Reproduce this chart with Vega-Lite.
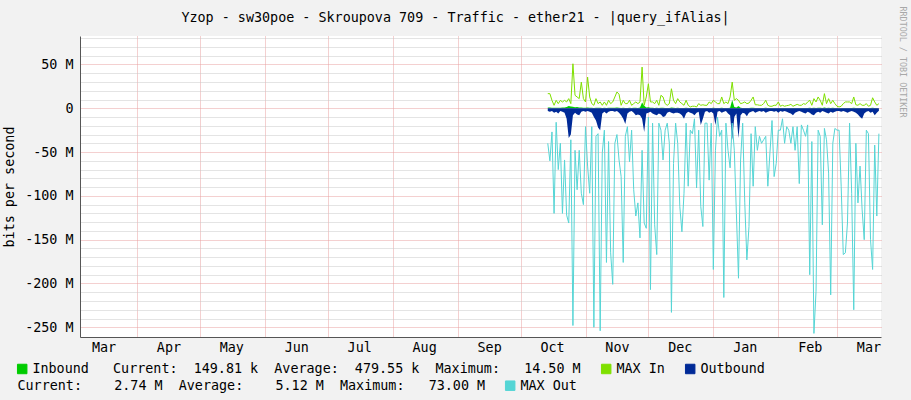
{
  "$schema": "https://vega.github.io/schema/vega-lite/v6.json",
  "width": 801,
  "height": 301,
  "autosize": {"type": "none"},
  "padding": {"left": 80, "top": 36, "right": 30, "bottom": 63},
  "background": "#f2f2f2",
  "title": {
    "text": "Yzop - sw30poe - Skroupova 709 - Traffic - ether21 - |query_ifAlias|",
    "font": "DejaVu Sans Mono",
    "fontSize": 13.4,
    "fontWeight": "normal",
    "color": "#000000",
    "anchor": "middle",
    "dx": -25,
    "offset": -29,
    "baseline": "alphabetic"
  },
  "data": {
    "values": [
      {"time": "2022-10-14", "inbound": 800000, "max_in": 16700000, "outbound": -3000000, "max_out": -40000000},
      {"time": "2022-10-15", "inbound": 1000000, "max_in": 16700000, "outbound": -4000000, "max_out": -60000000},
      {"time": "2022-10-16", "inbound": 600000, "max_in": 9000000, "outbound": -3000000, "max_out": -27000000},
      {"time": "2022-10-17", "inbound": 500000, "max_in": 3400000, "outbound": -5000000, "max_out": -120000000},
      {"time": "2022-10-18", "inbound": 700000, "max_in": 9000000, "outbound": -4000000, "max_out": -16000000},
      {"time": "2022-10-19", "inbound": 600000, "max_in": 5300000, "outbound": -6000000, "max_out": -70000000},
      {"time": "2022-10-20", "inbound": 500000, "max_in": 9000000, "outbound": -3000000, "max_out": -40000000},
      {"time": "2022-10-21", "inbound": 800000, "max_in": 7200000, "outbound": -4000000, "max_out": -120000000},
      {"time": "2022-10-22", "inbound": 1000000, "max_in": 9000000, "outbound": -5000000, "max_out": -59000000},
      {"time": "2022-10-23", "inbound": 1500000, "max_in": 7200000, "outbound": -12000000, "max_out": -122000000},
      {"time": "2022-10-24", "inbound": 2500000, "max_in": 11000000, "outbound": -34000000, "max_out": -131000000},
      {"time": "2022-10-25", "inbound": 2000000, "max_in": 5300000, "outbound": -30000000, "max_out": -36000000},
      {"time": "2022-10-26", "inbound": 1800000, "max_in": 50800000, "outbound": -8000000, "max_out": -248000000},
      {"time": "2022-10-27", "inbound": 1200000, "max_in": 14800000, "outbound": -5000000, "max_out": -48000000},
      {"time": "2022-10-28", "inbound": 1500000, "max_in": 12900000, "outbound": -7000000, "max_out": -93000000},
      {"time": "2022-10-29", "inbound": 1000000, "max_in": 11000000, "outbound": -8000000, "max_out": -48000000},
      {"time": "2022-10-30", "inbound": 800000, "max_in": 29900000, "outbound": -4000000, "max_out": -97000000},
      {"time": "2022-10-31", "inbound": 600000, "max_in": 11000000, "outbound": -3000000, "max_out": -110000000},
      {"time": "2022-11-01", "inbound": 500000, "max_in": 7200000, "outbound": -4000000, "max_out": -21000000},
      {"time": "2022-11-02", "inbound": 900000, "max_in": 35600000, "outbound": -3000000, "max_out": -66000000},
      {"time": "2022-11-03", "inbound": 700000, "max_in": 12900000, "outbound": -4000000, "max_out": -97000000},
      {"time": "2022-11-04", "inbound": 500000, "max_in": 5300000, "outbound": -5000000, "max_out": -21000000},
      {"time": "2022-11-05", "inbound": 400000, "max_in": 3400000, "outbound": -10000000, "max_out": -250000000},
      {"time": "2022-11-06", "inbound": 600000, "max_in": 11000000, "outbound": -14000000, "max_out": -32000000},
      {"time": "2022-11-07", "inbound": 500000, "max_in": 5300000, "outbound": -22000000, "max_out": -29000000},
      {"time": "2022-11-08", "inbound": 600000, "max_in": 7200000, "outbound": -25000000, "max_out": -254000000},
      {"time": "2022-11-09", "inbound": 400000, "max_in": 3400000, "outbound": -6000000, "max_out": -51000000},
      {"time": "2022-11-10", "inbound": 500000, "max_in": 7200000, "outbound": -4000000, "max_out": -25000000},
      {"time": "2022-11-11", "inbound": 400000, "max_in": 3400000, "outbound": -6000000, "max_out": -176000000},
      {"time": "2022-11-12", "inbound": 600000, "max_in": 9100000, "outbound": -4000000, "max_out": -38000000},
      {"time": "2022-11-13", "inbound": 500000, "max_in": 5300000, "outbound": -3000000, "max_out": -165000000},
      {"time": "2022-11-14", "inbound": 500000, "max_in": 7200000, "outbound": -3000000, "max_out": -201000000},
      {"time": "2022-11-15", "inbound": 700000, "max_in": 12900000, "outbound": -4000000, "max_out": -40000000},
      {"time": "2022-11-16", "inbound": 800000, "max_in": 18600000, "outbound": -3000000, "max_out": -30000000},
      {"time": "2022-11-17", "inbound": 600000, "max_in": 16000000, "outbound": -5000000, "max_out": -59000000},
      {"time": "2022-11-18", "inbound": 400000, "max_in": 3400000, "outbound": -8000000, "max_out": -78000000},
      {"time": "2022-11-19", "inbound": 500000, "max_in": 9100000, "outbound": -12000000, "max_out": -176000000},
      {"time": "2022-11-20", "inbound": 400000, "max_in": 5300000, "outbound": -18000000, "max_out": -32000000},
      {"time": "2022-11-21", "inbound": 400000, "max_in": 5300000, "outbound": -6000000, "max_out": -21000000},
      {"time": "2022-11-22", "inbound": 600000, "max_in": 9100000, "outbound": -4000000, "max_out": -61000000},
      {"time": "2022-11-23", "inbound": 400000, "max_in": 3400000, "outbound": -3000000, "max_out": -25000000},
      {"time": "2022-11-24", "inbound": 500000, "max_in": 5300000, "outbound": -5000000, "max_out": -93000000},
      {"time": "2022-11-25", "inbound": 500000, "max_in": 7200000, "outbound": -8000000, "max_out": -123000000},
      {"time": "2022-11-26", "inbound": 400000, "max_in": 5300000, "outbound": -7000000, "max_out": -108000000},
      {"time": "2022-11-27", "inbound": 800000, "max_in": 7200000, "outbound": -8000000, "max_out": -148000000},
      {"time": "2022-11-28", "inbound": 6500000, "max_in": 47000000, "outbound": -12000000, "max_out": -48000000},
      {"time": "2022-11-29", "inbound": 3000000, "max_in": 3400000, "outbound": -27000000, "max_out": -131000000},
      {"time": "2022-11-30", "inbound": 800000, "max_in": 12900000, "outbound": -6000000, "max_out": -137000000},
      {"time": "2022-12-01", "inbound": 1200000, "max_in": 28000000, "outbound": -5000000, "max_out": -10000000},
      {"time": "2022-12-02", "inbound": 600000, "max_in": 7200000, "outbound": -4000000, "max_out": -207000000},
      {"time": "2022-12-03", "inbound": 500000, "max_in": 7200000, "outbound": -6000000, "max_out": -17000000},
      {"time": "2022-12-04", "inbound": 400000, "max_in": 5300000, "outbound": -7000000, "max_out": -133000000},
      {"time": "2022-12-05", "inbound": 500000, "max_in": 9100000, "outbound": -8000000, "max_out": -167000000},
      {"time": "2022-12-06", "inbound": 400000, "max_in": 3400000, "outbound": -6000000, "max_out": -17000000},
      {"time": "2022-12-07", "inbound": 700000, "max_in": 14800000, "outbound": -7000000, "max_out": -25000000},
      {"time": "2022-12-08", "inbound": 600000, "max_in": 12900000, "outbound": -10000000, "max_out": -59000000},
      {"time": "2022-12-09", "inbound": 400000, "max_in": 5300000, "outbound": -9000000, "max_out": -25000000},
      {"time": "2022-12-10", "inbound": 300000, "max_in": 3400000, "outbound": -5000000, "max_out": -17000000},
      {"time": "2022-12-11", "inbound": 400000, "max_in": 5300000, "outbound": -4000000, "max_out": -40000000},
      {"time": "2022-12-12", "inbound": 900000, "max_in": 22300000, "outbound": -5000000, "max_out": -233000000},
      {"time": "2022-12-13", "inbound": 500000, "max_in": 9100000, "outbound": -6000000, "max_out": -63000000},
      {"time": "2022-12-14", "inbound": 400000, "max_in": 5300000, "outbound": -5000000, "max_out": -17000000},
      {"time": "2022-12-15", "inbound": 500000, "max_in": 11000000, "outbound": -5000000, "max_out": -40000000},
      {"time": "2022-12-16", "inbound": 400000, "max_in": 7200000, "outbound": -6000000, "max_out": -112000000},
      {"time": "2022-12-17", "inbound": 400000, "max_in": 5300000, "outbound": -8000000, "max_out": -141000000},
      {"time": "2022-12-18", "inbound": 300000, "max_in": 3400000, "outbound": -12000000, "max_out": -97000000},
      {"time": "2022-12-19", "inbound": 500000, "max_in": 9100000, "outbound": -6000000, "max_out": -17000000},
      {"time": "2022-12-20", "inbound": 300000, "max_in": 3400000, "outbound": -4000000, "max_out": -89000000},
      {"time": "2022-12-21", "inbound": 200000, "max_in": 1500000, "outbound": -5000000, "max_out": -25000000},
      {"time": "2022-12-22", "inbound": 200000, "max_in": 2300000, "outbound": -6000000, "max_out": -29000000},
      {"time": "2022-12-23", "inbound": 200000, "max_in": 2300000, "outbound": -8000000, "max_out": -12000000},
      {"time": "2022-12-24", "inbound": 200000, "max_in": 1500000, "outbound": -5000000, "max_out": -91000000},
      {"time": "2022-12-25", "inbound": 300000, "max_in": 5300000, "outbound": -4000000, "max_out": -25000000},
      {"time": "2022-12-26", "inbound": 300000, "max_in": 3400000, "outbound": -19000000, "max_out": -112000000},
      {"time": "2022-12-27", "inbound": 300000, "max_in": 4000000, "outbound": -12000000, "max_out": -135000000},
      {"time": "2022-12-28", "inbound": 200000, "max_in": 3400000, "outbound": -4000000, "max_out": -17000000},
      {"time": "2022-12-29", "inbound": 200000, "max_in": 3400000, "outbound": -3000000, "max_out": -17000000},
      {"time": "2022-12-30", "inbound": 400000, "max_in": 7200000, "outbound": -5000000, "max_out": -82000000},
      {"time": "2022-12-31", "inbound": 300000, "max_in": 5300000, "outbound": -4000000, "max_out": -17000000},
      {"time": "2023-01-01", "inbound": 500000, "max_in": 9100000, "outbound": -6000000, "max_out": -184000000},
      {"time": "2023-01-02", "inbound": 400000, "max_in": 7200000, "outbound": -19000000, "max_out": -48000000},
      {"time": "2023-01-03", "inbound": 300000, "max_in": 5300000, "outbound": -4000000, "max_out": -10000000},
      {"time": "2023-01-04", "inbound": 300000, "max_in": 5300000, "outbound": -3000000, "max_out": -32000000},
      {"time": "2023-01-05", "inbound": 600000, "max_in": 12900000, "outbound": -5000000, "max_out": -25000000},
      {"time": "2023-01-06", "inbound": 300000, "max_in": 5300000, "outbound": -4000000, "max_out": -216000000},
      {"time": "2023-01-07", "inbound": 400000, "max_in": 7200000, "outbound": -3000000, "max_out": -17000000},
      {"time": "2023-01-08", "inbound": 300000, "max_in": 5300000, "outbound": -6000000, "max_out": -48000000},
      {"time": "2023-01-09", "inbound": 700000, "max_in": 12900000, "outbound": -8000000, "max_out": -68000000},
      {"time": "2023-01-10", "inbound": 9500000, "max_in": 29900000, "outbound": -36000000, "max_out": -17000000},
      {"time": "2023-01-11", "inbound": 1500000, "max_in": 9100000, "outbound": -10000000, "max_out": -48000000},
      {"time": "2023-01-12", "inbound": 1000000, "max_in": 11000000, "outbound": -6000000, "max_out": -120000000},
      {"time": "2023-01-13", "inbound": 2500000, "max_in": 9100000, "outbound": -34000000, "max_out": -194000000},
      {"time": "2023-01-14", "inbound": 500000, "max_in": 5300000, "outbound": -8000000, "max_out": -59000000},
      {"time": "2023-01-15", "inbound": 400000, "max_in": 6000000, "outbound": -5000000, "max_out": -17000000},
      {"time": "2023-01-16", "inbound": 400000, "max_in": 7200000, "outbound": -6000000, "max_out": -108000000},
      {"time": "2023-01-17", "inbound": 300000, "max_in": 5300000, "outbound": -9000000, "max_out": -173000000},
      {"time": "2023-01-18", "inbound": 400000, "max_in": 6000000, "outbound": -5000000, "max_out": -135000000},
      {"time": "2023-01-19", "inbound": 500000, "max_in": 9100000, "outbound": -4000000, "max_out": -29000000},
      {"time": "2023-01-20", "inbound": 600000, "max_in": 12900000, "outbound": -3000000, "max_out": -89000000},
      {"time": "2023-01-21", "inbound": 300000, "max_in": 4000000, "outbound": -5000000, "max_out": -21000000},
      {"time": "2023-01-22", "inbound": 300000, "max_in": 4000000, "outbound": -4000000, "max_out": -48000000},
      {"time": "2023-01-23", "inbound": 200000, "max_in": 3400000, "outbound": -3000000, "max_out": -32000000},
      {"time": "2023-01-24", "inbound": 200000, "max_in": 3400000, "outbound": -4000000, "max_out": -40000000},
      {"time": "2023-01-25", "inbound": 300000, "max_in": 5300000, "outbound": -3000000, "max_out": -36000000},
      {"time": "2023-01-26", "inbound": 500000, "max_in": 9100000, "outbound": -5000000, "max_out": -32000000},
      {"time": "2023-01-27", "inbound": 200000, "max_in": 3400000, "outbound": -4000000, "max_out": -89000000},
      {"time": "2023-01-28", "inbound": 200000, "max_in": 2300000, "outbound": -3000000, "max_out": -51000000},
      {"time": "2023-01-29", "inbound": 200000, "max_in": 2300000, "outbound": -3000000, "max_out": -14000000},
      {"time": "2023-01-30", "inbound": 200000, "max_in": 3400000, "outbound": -4000000, "max_out": -78000000},
      {"time": "2023-01-31", "inbound": 200000, "max_in": 3400000, "outbound": -3000000, "max_out": -63000000},
      {"time": "2023-02-01", "inbound": 400000, "max_in": 7200000, "outbound": -5000000, "max_out": -25000000},
      {"time": "2023-02-02", "inbound": 200000, "max_in": 2300000, "outbound": -3000000, "max_out": -25000000},
      {"time": "2023-02-03", "inbound": 200000, "max_in": 3400000, "outbound": -4000000, "max_out": -12000000},
      {"time": "2023-02-04", "inbound": 200000, "max_in": 2300000, "outbound": -3000000, "max_out": -40000000},
      {"time": "2023-02-05", "inbound": 200000, "max_in": 3000000, "outbound": -4000000, "max_out": -21000000},
      {"time": "2023-02-06", "inbound": 200000, "max_in": 3400000, "outbound": -5000000, "max_out": -25000000},
      {"time": "2023-02-07", "inbound": 300000, "max_in": 4500000, "outbound": -6000000, "max_out": -40000000},
      {"time": "2023-02-08", "inbound": 200000, "max_in": 2300000, "outbound": -8000000, "max_out": -21000000},
      {"time": "2023-02-09", "inbound": 200000, "max_in": 3400000, "outbound": -5000000, "max_out": -48000000},
      {"time": "2023-02-10", "inbound": 300000, "max_in": 4500000, "outbound": -4000000, "max_out": -21000000},
      {"time": "2023-02-11", "inbound": 200000, "max_in": 3400000, "outbound": -3000000, "max_out": -86000000},
      {"time": "2023-02-12", "inbound": 200000, "max_in": 3400000, "outbound": -4000000, "max_out": -19000000},
      {"time": "2023-02-13", "inbound": 300000, "max_in": 5300000, "outbound": -5000000, "max_out": -25000000},
      {"time": "2023-02-14", "inbound": 300000, "max_in": 4500000, "outbound": -6000000, "max_out": -32000000},
      {"time": "2023-02-15", "inbound": 400000, "max_in": 7200000, "outbound": -4000000, "max_out": -19000000},
      {"time": "2023-02-16", "inbound": 500000, "max_in": 9100000, "outbound": -5000000, "max_out": -190000000},
      {"time": "2023-02-17", "inbound": 200000, "max_in": 3400000, "outbound": -7000000, "max_out": -38000000},
      {"time": "2023-02-18", "inbound": 600000, "max_in": 11000000, "outbound": -8000000, "max_out": -257000000},
      {"time": "2023-02-19", "inbound": 400000, "max_in": 7200000, "outbound": -5000000, "max_out": -209000000},
      {"time": "2023-02-20", "inbound": 700000, "max_in": 12900000, "outbound": -4000000, "max_out": -25000000},
      {"time": "2023-02-21", "inbound": 500000, "max_in": 9100000, "outbound": -5000000, "max_out": -32000000},
      {"time": "2023-02-22", "inbound": 200000, "max_in": 3400000, "outbound": -3000000, "max_out": -133000000},
      {"time": "2023-02-23", "inbound": 900000, "max_in": 16700000, "outbound": -4000000, "max_out": -23000000},
      {"time": "2023-02-24", "inbound": 300000, "max_in": 5300000, "outbound": -5000000, "max_out": -36000000},
      {"time": "2023-02-25", "inbound": 600000, "max_in": 11000000, "outbound": -6000000, "max_out": -74000000},
      {"time": "2023-02-26", "inbound": 300000, "max_in": 5300000, "outbound": -4000000, "max_out": -213000000},
      {"time": "2023-02-27", "inbound": 500000, "max_in": 9100000, "outbound": -5000000, "max_out": -40000000},
      {"time": "2023-02-28", "inbound": 300000, "max_in": 5300000, "outbound": -4000000, "max_out": -23000000},
      {"time": "2023-03-01", "inbound": 200000, "max_in": 2300000, "outbound": -3000000, "max_out": -25000000},
      {"time": "2023-03-02", "inbound": 100000, "max_in": 1500000, "outbound": -3000000, "max_out": -25000000},
      {"time": "2023-03-03", "inbound": 200000, "max_in": 2300000, "outbound": -4000000, "max_out": -89000000},
      {"time": "2023-03-04", "inbound": 300000, "max_in": 5300000, "outbound": -3000000, "max_out": -167000000},
      {"time": "2023-03-05", "inbound": 400000, "max_in": 7200000, "outbound": -4000000, "max_out": -165000000},
      {"time": "2023-03-06", "inbound": 400000, "max_in": 7200000, "outbound": -5000000, "max_out": -131000000},
      {"time": "2023-03-07", "inbound": 400000, "max_in": 7200000, "outbound": -4000000, "max_out": -17000000},
      {"time": "2023-03-08", "inbound": 300000, "max_in": 5300000, "outbound": -3000000, "max_out": -97000000},
      {"time": "2023-03-09", "inbound": 700000, "max_in": 12900000, "outbound": -4000000, "max_out": -230000000},
      {"time": "2023-03-10", "inbound": 200000, "max_in": 4000000, "outbound": -5000000, "max_out": -40000000},
      {"time": "2023-03-11", "inbound": 200000, "max_in": 3400000, "outbound": -7000000, "max_out": -108000000},
      {"time": "2023-03-12", "inbound": 300000, "max_in": 5300000, "outbound": -10000000, "max_out": -66000000},
      {"time": "2023-03-13", "inbound": 200000, "max_in": 3400000, "outbound": -12000000, "max_out": -116000000},
      {"time": "2023-03-14", "inbound": 200000, "max_in": 3400000, "outbound": -6000000, "max_out": -150000000},
      {"time": "2023-03-15", "inbound": 300000, "max_in": 5300000, "outbound": -4000000, "max_out": -25000000},
      {"time": "2023-03-16", "inbound": 150000, "max_in": 2300000, "outbound": -3000000, "max_out": -29000000},
      {"time": "2023-03-17", "inbound": 200000, "max_in": 3400000, "outbound": -5000000, "max_out": -150000000},
      {"time": "2023-03-18", "inbound": 600000, "max_in": 12000000, "outbound": -4000000, "max_out": -184000000},
      {"time": "2023-03-19", "inbound": 400000, "max_in": 7200000, "outbound": -8000000, "max_out": -42000000},
      {"time": "2023-03-20", "inbound": 200000, "max_in": 3400000, "outbound": -5000000, "max_out": -123000000},
      {"time": "2023-03-21", "inbound": 150000, "max_in": 5300000, "outbound": -2700000, "max_out": -29000000}
    ]
  },
  "encoding": {
    "x": {
      "field": "time",
      "type": "temporal",
      "scale": {
        "type": "utc",
        "domain": [
          {"year": 2022, "month": 3, "date": 4, "hours": 19, "utc": true},
          {"year": 2023, "month": 3, "date": 22, "utc": true}
        ]
      },
      "axis": {
        "title": null,
        "values": [
          {"year": 2022, "month": 3, "date": 16, "utc": true},
          {"year": 2022, "month": 4, "date": 1, "utc": true},
          {"year": 2022, "month": 4, "date": 16, "utc": true},
          {"year": 2022, "month": 5, "date": 1, "utc": true},
          {"year": 2022, "month": 5, "date": 16, "utc": true},
          {"year": 2022, "month": 6, "date": 1, "utc": true},
          {"year": 2022, "month": 6, "date": 16, "utc": true},
          {"year": 2022, "month": 7, "date": 1, "utc": true},
          {"year": 2022, "month": 7, "date": 16, "utc": true},
          {"year": 2022, "month": 8, "date": 1, "utc": true},
          {"year": 2022, "month": 8, "date": 16, "utc": true},
          {"year": 2022, "month": 9, "date": 1, "utc": true},
          {"year": 2022, "month": 9, "date": 16, "utc": true},
          {"year": 2022, "month": 10, "date": 1, "utc": true},
          {"year": 2022, "month": 10, "date": 16, "utc": true},
          {"year": 2022, "month": 11, "date": 1, "utc": true},
          {"year": 2022, "month": 11, "date": 16, "utc": true},
          {"year": 2022, "month": 12, "date": 1, "utc": true},
          {"year": 2022, "month": 12, "date": 16, "utc": true},
          {"year": 2023, "month": 1, "date": 1, "utc": true},
          {"year": 2023, "month": 1, "date": 16, "utc": true},
          {"year": 2023, "month": 2, "date": 1, "utc": true},
          {"year": 2023, "month": 2, "date": 16, "utc": true},
          {"year": 2023, "month": 3, "date": 1, "utc": true},
          {"year": 2023, "month": 3, "date": 16, "utc": true}
        ],
        "labelExpr": "utcdate(datum.value) == 16 ? utcFormat(datum.value, '%b') : ''",
        "grid": true,
        "gridColor": "#e8a0a0",
        "gridDash": [1, 1],
        "gridOpacity": {"condition": {"test": "utcdate(datum.value) == 1", "value": 1}, "value": 0},
        "ticks": false,
        "domainColor": "#555555",
        "labelFont": "DejaVu Sans Mono",
        "labelFontSize": 13.4,
        "labelColor": "#000000",
        "labelPadding": 3,
        "labelOverlap": false,
        "labelFlush": false
      }
    }
  },
  "layer": [
    {
      "mark": {"type": "area", "interpolate": "linear"},
      "encoding": {
        "y": {
          "field": "inbound",
          "type": "quantitative",
          "stack": null,
          "scale": {"domain": [-261100000, 82500000], "nice": false, "zero": false},
          "axis": {
            "orient": "left",
            "values": [-250000000, -240000000, -230000000, -220000000, -210000000, -200000000, -190000000, -180000000, -170000000, -160000000, -150000000, -140000000, -130000000, -120000000, -110000000, -100000000, -90000000, -80000000, -70000000, -60000000, -50000000, -40000000, -30000000, -20000000, -10000000, 0, 10000000, 20000000, 30000000, 40000000, 50000000, 60000000, 70000000, 80000000],
            "labelExpr": "datum.value % 50000000 == 0 ? (datum.value == 0 ? '0' : (datum.value / 1000000) + ' M') : ''",
            "grid": true,
            "gridColor": {"condition": {"test": "datum.value % 50000000 == 0", "value": "#e8a0a0"}, "value": "#c8c8c8"},
            "gridDash": [1, 1],
            "ticks": false,
            "domainColor": "#555555",
            "labelFont": "DejaVu Sans Mono",
            "labelFontSize": 13.4,
            "labelColor": "#000000",
            "labelPadding": 7,
            "labelOverlap": false,
            "title": "bits per second",
            "titleFont": "DejaVu Sans Mono",
            "titleFontSize": 13.4,
            "titleFontWeight": "normal",
            "titleColor": "#000000",
            "titlePadding": 8
          }
        },
        "color": {
          "datum": "Inbound",
          "type": "nominal",
          "scale": {
            "domain": ["Inbound", "MAX In", "Outbound"],
            "range": ["#00cc00", "#7fe000", "#002a97"]
          },
          "legend": {
            "orient": "none",
            "legendX": -64.5,
            "legendY": 326,
            "direction": "horizontal",
            "title": null,
            "padding": 0,
            "symbolType": "square",
            "symbolSize": 90,
            "symbolStrokeColor": "#000000",
            "symbolStrokeWidth": 1,
            "labelFont": "DejaVu Sans Mono",
            "labelFontSize": 13.4,
            "labelColor": "#000000",
            "labelLimit": 2000,
            "labelOffset": 3.5,
            "columnPadding": 17,
            "labelExpr": "datum.value == 'Inbound' ? 'Inbound\u00a0\u00a0\u00a0Current:\u00a0\u00a0149.81\u00a0k\u00a0\u00a0Average:\u00a0\u00a0479.55\u00a0k\u00a0\u00a0Maximum:\u00a0\u00a0\u00a014.50\u00a0M' : datum.label",
            "encode": {
              "symbols": {
                "update": {
                  "fill": {"scale": "color", "field": "value"},
                  "stroke": {"value": "#000000"},
                  "strokeWidth": {"value": 1},
                  "opacity": {"value": 1}
                }
              }
            }
          }
        }
      }
    },
    {
      "mark": {"type": "line", "strokeWidth": 1, "interpolate": "linear"},
      "encoding": {
        "y": {"field": "max_in", "type": "quantitative", "axis": null},
        "color": {"datum": "MAX In", "type": "nominal"}
      }
    },
    {
      "mark": {"type": "area", "interpolate": "linear"},
      "encoding": {
        "y": {"field": "outbound", "type": "quantitative", "stack": null, "axis": null},
        "color": {"datum": "Outbound", "type": "nominal"}
      }
    },
    {
      "mark": {"type": "line", "strokeWidth": 1, "interpolate": "linear"},
      "encoding": {
        "y": {
          "field": "max_out",
          "type": "quantitative",
          "axis": {
            "orient": "right",
            "labels": false,
            "ticks": false,
            "domain": false,
            "grid": false,
            "title": "RRDTOOL / TOBI OETIKER",
            "titleFont": "DejaVu Sans Mono",
            "titleFontSize": 8.4,
            "titleFontWeight": "normal",
            "titleColor": "#a8a8a8",
            "titleAngle": 90,
            "titleAlign": "left",
            "titleBaseline": "middle",
            "titleY": -30,
            "titlePadding": 21
          }
        },
        "stroke": {
          "datum": "MAX Out",
          "type": "nominal",
          "scale": {"domain": ["MAX Out"], "range": ["#55d5d5"]},
          "legend": {
            "orient": "none",
            "legendX": -62.5,
            "legendY": 343,
            "direction": "horizontal",
            "padding": 0,
            "title": "Current:\u00a0\u00a0\u00a0\u00a02.74\u00a0M\u00a0\u00a0Average:\u00a0\u00a0\u00a0\u00a05.12\u00a0M\u00a0\u00a0Maximum:\u00a0\u00a0\u00a073.00\u00a0M",
            "titleOrient": "left",
            "titleAnchor": "middle",
            "titleBaseline": "middle",
            "titleAlign": "left",
            "titleFont": "DejaVu Sans Mono",
            "titleFontSize": 13.4,
            "titleFontWeight": "normal",
            "titleColor": "#000000",
            "titleLimit": 2000,
            "titlePadding": 18,
            "symbolType": "square",
            "symbolSize": 90,
            "symbolStrokeColor": "#000000",
            "symbolStrokeWidth": 1,
            "labelFont": "DejaVu Sans Mono",
            "labelFontSize": 13.4,
            "labelColor": "#000000",
            "labelLimit": 2000,
            "labelOffset": 3.5,
            "encode": {
              "symbols": {
                "update": {
                  "fill": {"scale": "stroke", "field": "value"},
                  "stroke": {"value": "#000000"},
                  "strokeWidth": {"value": 1},
                  "opacity": {"value": 1}
                }
              }
            }
          }
        }
      }
    }
  ],
  "resolve": {"scale": {"y": "shared"}, "axis": {"y": "independent"}},
  "config": {
    "font": "DejaVu Sans Mono",
    "view": {"fill": "#ffffff", "stroke": null}
  }
}
